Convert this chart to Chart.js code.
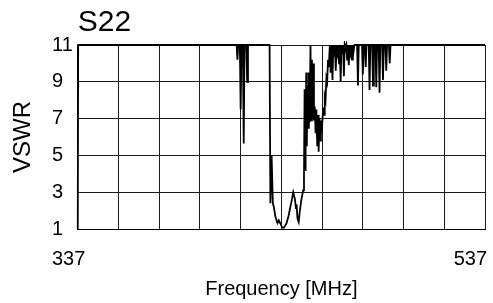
<!DOCTYPE html>
<html>
<head>
<meta charset="utf-8">
<script src="https://cdn.jsdelivr.net/npm/chart.js@4.4.1/dist/chart.umd.min.js"></script>
<style>
    html, body { margin: 0; padding: 0; background: #fff; }
</style>
</head>
<body>
<canvas id="chart" width="493" height="303"></canvas>
<script>
// S22 sweep (VSWR clipped at 11)
const freqMHz = [
    337, 337.2, 415.0, 415.4, 415.8, 416.6, 417.0, 417.4, 418.1, 418.5,
    418.9, 419.8, 420.2, 420.6, 431.2,
    // main dip
    431.6, 432.2, 432.8, 433.3, 434.0, 434.6, 435.1, 435.7, 436.5, 437.4,
    438.3, 439.5, 440.6, 441.4, 442.0, 442.8, 443.6, 444.1, 444.5, 444.9,
    445.5, 446.0, 446.9, 447.7,
    // noisy rise
    448.1, 448.4, 448.6, 448.9, 449.2, 449.5, 449.8, 450.1, 450.5, 450.9,
    451.3, 451.6, 452.0, 452.3, 452.7, 453.0, 453.4, 453.8, 454.2, 454.6,
    455.0, 455.3, 455.7, 456.0, 456.4, 456.7, 457.2, 457.6, 458.0, 458.3,
    458.7, 459.1, 459.5, 459.9, 460.3, 460.8, 461.2, 461.6,
    // spikes below the clip level
    462.1, 462.5, 462.9, 463.3, 463.7, 464.1, 464.5, 464.9, 465.3, 465.7,
    466.1, 466.5, 466.9, 467.3, 467.7, 468.1, 468.5, 468.9, 469.3, 469.7,
    470.1, 470.5, 470.9, 471.3, 471.7, 472.1, 472.5, 472.9, 474.2, 474.6,
    475.0, 476.6, 477.0, 477.4, 478.0, 478.4, 478.8, 479.9, 480.3, 480.7,
    481.6, 482.0, 482.4, 483.2, 483.6, 484.0, 484.8, 485.2, 485.6, 486.5,
    486.9, 487.3, 488.1, 488.5, 488.9, 489.8, 490.2, 490.6, 537,
];
const vswr = [
    1.0, 11, 11, 10.2, 11, 11, 7.5, 11, 11, 5.65,
    11, 11, 9.0, 11, 11,
    2.4, 5.0, 2.4, 2.2, 1.7, 1.47, 1.33, 1.47, 1.3, 1.08,
    1.08, 1.3, 1.75, 2.2, 2.5, 3.0, 2.65, 2.2, 2.25, 1.57,
    1.38, 1.93, 2.65, 3.1,
    3.7, 8.6, 4.2, 5.3, 9.5, 5.5, 8.8, 6.5, 9.5, 6.8,
    11, 6.9, 10.2, 7.0, 10.0, 6.9, 7.65, 6.2, 7.5, 5.5,
    7.2, 5.2, 7.0, 5.8, 6.9, 6.2, 7.0, 7.6, 7.2, 8.2,
    8.0, 9.2, 9.0, 10.2, 9.8, 11, 9.5, 11,
    9.1, 11, 10.4, 11, 9.6, 11, 10.6, 11, 10.0, 11,
    9.0, 11, 10.5, 11, 9.3, 11, 10.8, 11, 10.2, 11,
    9.9, 11, 10.6, 11, 10.2, 11, 10.7, 11, 11, 8.8,
    11, 11, 9.4, 11, 11, 9.8, 11, 11, 8.55, 11,
    11, 8.8, 11, 11, 8.7, 11, 11, 8.4, 11, 11,
    9.1, 11, 11, 9.6, 11, 11, 10.0, 11, 11,
];
const xTickLabels = [337, 537];
const yRange = [1, 11];
const yStep = 2;
const xStep = 20;

const FONT = "'Liberation Sans', Arial, sans-serif";
Chart.defaults.font.family = FONT;
Chart.defaults.color = '#000';

// y title and the two end labels of the x axis, placed from the scales
const extraText = {
    id: 'extraText',
    afterDraw(chart) {
        const ctx = chart.ctx;
        const area = chart.chartArea;
        const xs = chart.scales.x;
        const ys = chart.scales.y;
        ctx.save();
        ctx.fillStyle = '#000';

        ctx.font = `24px ${FONT}`;
        ctx.textAlign = 'center';
        ctx.textBaseline = 'middle';
        ctx.translate(23, (area.top + area.bottom) / 2);
        ctx.rotate(-Math.PI / 2);
        ctx.fillText('VSWR', 0, 0);
        ctx.setTransform(1, 0, 0, 1, 0, 0);

        ctx.font = `20px ${FONT}`;
        ctx.textBaseline = 'middle';
        xTickLabels.forEach((v, i) => {
            const first = i === 0;
            ctx.textAlign = first ? 'left' : 'right';
            const x = first ? ys.left : xs.getPixelForValue(v) + 2;
            ctx.fillText(String(v), x, area.bottom + 30);
        });
        ctx.restore();
    }
};

const chart = new Chart(document.getElementById('chart'), {
    type: 'line',
    data: {
        datasets: [{
            data: freqMHz.map((f, i) => ({ x: f, y: vswr[i] })),
            borderColor: '#000',
            borderWidth: 1.8,
            pointRadius: 0,
            tension: 0,
            fill: false,
            clip: 4,
        }]
    },
    options: {
        responsive: false,
        animation: false,
        events: [],
        layout: { padding: { left: 52, right: 8, top: 0, bottom: 0 } },
        plugins: {
            legend: { display: false },
            tooltip: { enabled: false },
            title: {
                display: true,
                text: 'S22',
                align: 'start',
                fullSize: false,
                color: '#000',
                font: { size: 30, weight: 'normal' },
                padding: { top: 5, bottom: 4 },
            },
        },
        scales: {
            x: {
                type: 'linear',
                min: 337,
                max: 537,
                ticks: { display: false, stepSize: xStep },
                grid: { color: '#1a1a1a', drawTicks: false },
                border: { color: '#000' },
                title: {
                    display: true,
                    text: 'Frequency [MHz]',
                    color: '#000',
                    font: { size: 20 },
                    padding: { top: 48, bottom: 2 },
                },
            },
            y: {
                min: yRange[0],
                max: yRange[1],
                ticks: {
                    stepSize: yStep,
                    crossAlign: 'far',
                    padding: 2.5,
                    color: '#000',
                    font: { size: 20 },
                },
                grid: { color: '#1a1a1a', drawTicks: false },
                border: { color: '#000' },
            },
        },
    },
    plugins: [extraText],
});
</script>
</body>
</html>
